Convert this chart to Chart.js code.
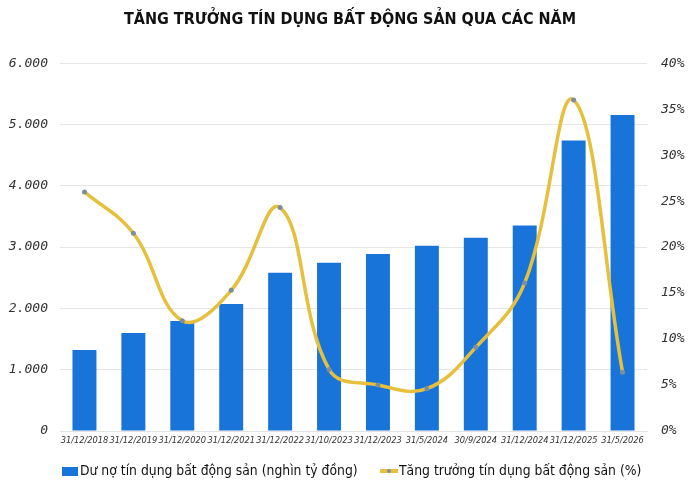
<!DOCTYPE html>
<html>
<head>
<meta charset="utf-8">
<script src="https://cdn.jsdelivr.net/npm/chart.js@4.4.1/dist/chart.umd.min.js"></script>
<style>
html,body{margin:0;padding:0;background:#fff;}
#wrap{width:700px;height:490px;}
</style>
</head>
<body>
<div id="wrap"><canvas id="c" width="700" height="490"></canvas></div>
<script>
const titleText = "TĂNG TRƯỞNG TÍN DỤNG BẤT ĐỘNG SẢN QUA CÁC NĂM";
const categories = ["31/12/2018","31/12/2019","31/12/2020","31/12/2021","31/12/2022","31/10/2023","31/12/2023","31/5/2024","30/9/2024","31/12/2024","31/12/2025","31/5/2026"];
const creditBalance = [1320, 1600, 1795, 2070, 2580, 2745, 2886, 3022, 3152, 3354, 4740, 5157];
const creditGrowth = [26.0, 21.5, 12.0, 15.3, 24.3, 6.7, 5.0, 4.6, 9.1, 16.1, 36.0, 6.4];
const barLabel = "Dư nợ tín dụng bất động sản (nghìn tỷ đồng)";
const lineLabel = "Tăng trưởng tín dụng bất động sản (%)";

const BAR_COLOR = "#1874D9";
const LINE_COLOR = "#E6C03C";
const POINT_COLOR = "#7E8E9A";

const legendPlugin = {
  id: 'customLegend',
  afterDraw(chart) {
    const ctx = chart.ctx;
    const y = 471;
    ctx.save();
    ctx.font = "13.8px 'DejaVu Sans Condensed', 'DejaVu Sans', sans-serif";
    ctx.textBaseline = 'middle';
    ctx.textAlign = 'left';
    ctx.fillStyle = BAR_COLOR;
    ctx.fillRect(62, y - 4, 16, 9);
    ctx.fillStyle = '#111';
    ctx.fillText(chart.data.datasets[0].label, 80, y);
    ctx.strokeStyle = LINE_COLOR;
    ctx.lineWidth = 4;
    ctx.beginPath();
    ctx.moveTo(380, y);
    ctx.lineTo(398, y);
    ctx.stroke();
    ctx.fillStyle = POINT_COLOR;
    ctx.beginPath();
    ctx.arc(389, y, 2, 0, Math.PI * 2);
    ctx.fill();
    ctx.fillStyle = '#111';
    ctx.fillText(chart.data.datasets[1].label, 399, y);
    ctx.restore();
  }
};

new Chart(document.getElementById('c'), {
  data: {
    labels: categories,
    datasets: [
      {
        type: 'bar',
        label: barLabel,
        data: creditBalance,
        backgroundColor: BAR_COLOR,
        yAxisID: 'y',
        order: 2,
        barPercentage: 0.98,
        categoryPercentage: 0.5
      },
      {
        type: 'line',
        label: lineLabel,
        data: creditGrowth,
        borderColor: LINE_COLOR,
        borderWidth: 3.5,
        tension: 0.4,
        pointRadius: 2.5,
        pointBackgroundColor: POINT_COLOR,
        pointBorderWidth: 0,
        yAxisID: 'y1',
        order: 1,
        clip: false
      }
    ]
  },
  options: {
    responsive: false,
    animation: false,
    layout: { padding: { left: 0, right: 0, top: 0, bottom: 30 } },
    plugins: {
      legend: { display: false },
      tooltip: { enabled: false },
      title: {
        display: true,
        text: titleText,
        color: '#111',
        font: { family: "'DejaVu Sans Condensed', 'DejaVu Sans', sans-serif", size: 16, weight: 'bold' },
        padding: { top: 10, bottom: 34 }
      }
    },
    scales: {
      x: {
        grid: { display: false, drawTicks: false },
        border: { display: true, color: '#e3e3e3' },
        ticks: {
          color: '#333',
          padding: 4,
          maxRotation: 0,
          autoSkip: false,
          font: { family: "'DejaVu Sans Condensed', sans-serif", size: 9.2, style: 'italic' }
        },
        afterFit(scale) { scale.height = 29; }
      },
      y: {
        position: 'left',
        min: 0, max: 6000,
        ticks: {
          stepSize: 1000,
          color: '#333',
          padding: 12,
          font: { family: "'DejaVu Sans Mono', monospace", size: 13, style: 'italic' },
          callback: v => v === 0 ? '0' : (v / 1000).toFixed(0) + '.000'
        },
        grid: { color: '#e6e6e6', drawTicks: false },
        border: { display: false },
        afterFit(scale) { scale.width = 60; }
      },
      y1: {
        position: 'right',
        min: 0, max: 40,
        ticks: {
          stepSize: 5,
          color: '#333',
          padding: 14,
          font: { family: "'DejaVu Sans Mono', monospace", size: 13, style: 'italic' },
          callback: v => v + '%'
        },
        grid: { display: false, drawTicks: false },
        border: { display: false },
        afterFit(scale) { scale.width = 53; }
      }
    }
  },
  plugins: [legendPlugin]
});
</script>
</body>
</html>
